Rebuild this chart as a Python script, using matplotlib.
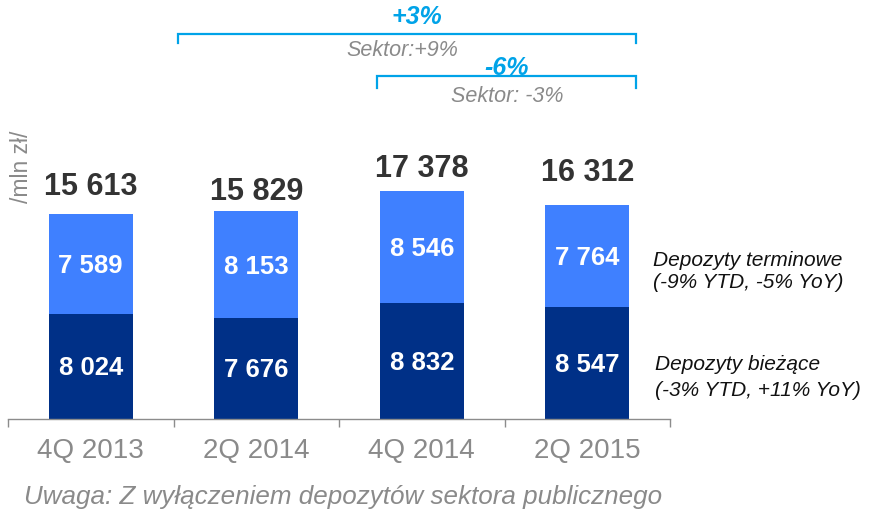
import matplotlib
matplotlib.use("Agg")
import matplotlib.pyplot as plt
import matplotlib.transforms as mtransforms

# ---- data ----
categories = ["4Q 2013", "2Q 2014", "4Q 2014", "2Q 2015"]
biezace = [8024, 7676, 8832, 8547]        # current deposits (bottom)
terminowe = [7589, 8153, 8546, 7764]      # term deposits (top)
totals = [15613, 15829, 17378, 16312]
total_labels = ["15 613", "15 829", "17 378", "16 312"]
biezace_labels = ["8 024", "7 676", "8 832", "8 547"]
terminowe_labels = ["7 589", "8 153", "8 546", "7 764"]

# ---- style ----
FONT = ["Liberation Sans", "DejaVu Sans"]
plt.rcParams["font.family"] = FONT
DARK = "#003087"
LIGHT = "#3f80ff"
CYAN = "#00a3e8"
GRAY = "#8a8a8a"
W, H = 874, 512
DPI = 100

fig = plt.figure(figsize=(W / DPI, H / DPI), dpi=DPI)
ax = fig.add_axes([8 / W, 93 / H, 662 / W, 419 / H])

x = list(range(len(categories)))
bar_w = 0.51
ax.bar(x, biezace, width=bar_w, color=DARK, zorder=2)
ax.bar(x, terminowe, width=bar_w, bottom=biezace, color=LIGHT, zorder=2)

ax.set_xlim(-0.5, len(categories) - 0.5)
ax.set_ylim(0, 31936)

for s in ["top", "right", "left"]:
    ax.spines[s].set_visible(False)
ax.spines["bottom"].set_color("#8c8c8c")
ax.spines["bottom"].set_linewidth(1.0)
ax.set_yticks([])
ax.set_xticks(x)
ax.set_xticklabels(categories, fontsize=20, color=GRAY)
ax.tick_params(axis="x", which="major", length=0, pad=13.5)
ax.set_xticks([i - 0.5 for i in range(len(categories) + 1)], minor=True)
ax.tick_params(axis="x", which="minor", length=6, width=1.0, color="#8c8c8c")

# segment labels
for i in x:
    ax.annotate(biezace_labels[i], (i, biezace[i] / 2), xytext=(0, -6.3),
                textcoords="offset points", ha="center", va="baseline",
                color="white", fontsize=18.5, fontweight="bold", zorder=3)
    ax.annotate(terminowe_labels[i], (i, biezace[i] + terminowe[i] / 2), xytext=(0, -6.3),
                textcoords="offset points", ha="center", va="baseline",
                color="white", fontsize=18.5, fontweight="bold", zorder=3)

# total labels (individual offsets above bar tops, in px)
total_offsets_px = [19, 11, 14, 24]
for i in x:
    ax.annotate(total_labels[i], (i, totals[i]), xytext=(0, total_offsets_px[i] * 0.72),
                textcoords="offset points", ha="center", va="baseline",
                color="#333333", fontsize=22, fontweight="bold")

# brackets: x in data, y in figure pixels (from top)
trans = mtransforms.blended_transform_factory(ax.transData, fig.transFigure)


def fy(px):
    return 1 - px / H


def bracket(x0, x1, y_line, y_end):
    ax.plot([x0, x0, x1, x1], [fy(y_end), fy(y_line), fy(y_line), fy(y_end)],
            transform=trans, color=CYAN, lw=1.6, clip_on=False,
            solid_joinstyle="miter", zorder=1)


bracket(0.527, 3.295, 34, 43)
bracket(1.73, 3.295, 76, 88)

fig.text(417 / W, fy(17), "+3%", ha="center", va="center", color=CYAN,
         fontsize=18, fontweight="bold", fontstyle="italic")
fig.text(402 / W, fy(50), "Sektor:+9%", ha="center", va="center", color=GRAY,
         fontsize=15.5, fontstyle="italic")
fig.text(507 / W, fy(68), "-6%", ha="center", va="center", color=CYAN,
         fontsize=18, fontweight="bold", fontstyle="italic")
fig.text(507 / W, fy(97), "Sektor: -3%", ha="center", va="center", color=GRAY,
         fontsize=15.5, fontstyle="italic")

# unit label
fig.text(22 / W, fy(167), "/mln zł/", rotation=90, ha="center", va="center",
         color=GRAY, fontsize=16.5)

# legend-like annotations on the right
fig.text(653 / W, fy(260), "Depozyty terminowe", ha="left", va="center",
         color="#111111", fontsize=15, fontstyle="italic")
fig.text(653 / W, fy(283), "(-9% YTD, -5% YoY)", ha="left", va="center",
         color="#111111", fontsize=15, fontstyle="italic")
fig.text(655 / W, fy(365), "Depozyty bieżące", ha="left", va="center",
         color="#111111", fontsize=15, fontstyle="italic")
fig.text(655 / W, fy(390), "(-3% YTD, +11% YoY)", ha="left", va="center",
         color="#111111", fontsize=15, fontstyle="italic")

# note
fig.text(343 / W, fy(497), "Uwaga: Z wyłączeniem depozytów sektora publicznego",
         ha="center", va="center", color=GRAY, fontsize=18.7, fontstyle="italic")

fig.savefig("out.png", dpi=DPI)
